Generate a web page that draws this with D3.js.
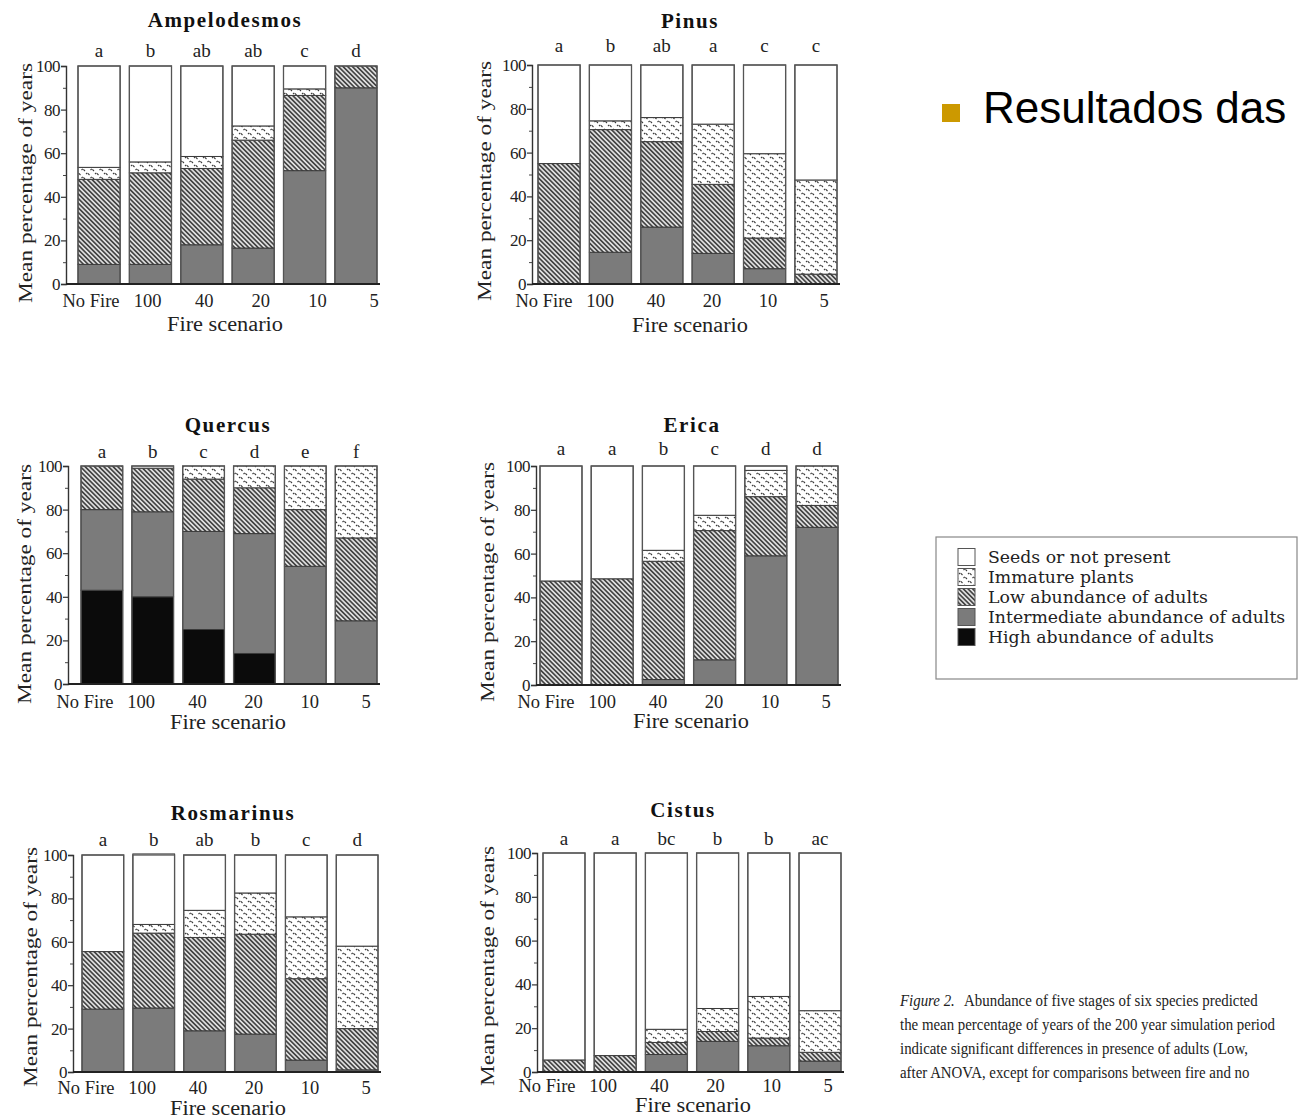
<!DOCTYPE html>
<html><head><meta charset="utf-8">
<script src="https://cdn.jsdelivr.net/npm/d3@7/dist/d3.min.js"></script>
<style>body{margin:0;background:#fff}svg{display:block}</style>
</head><body>
<script>
// ---------------- data ----------------
const categories = ["No Fire", "100", "40", "20", "10", "5"];
const stageKeys = ["high", "inter", "low", "immature", "seeds"];
const legendLabels = ["Seeds or not present", "Immature plants", "Low abundance of adults", "Intermediate abundance of adults", "High abundance of adults"];
const legendKeys = ["seeds", "immature", "low", "inter", "high"];
const yTicks = [0, 20, 40, 60, 80, 100];
const yMinorTicks = [10, 30, 50, 70, 90];

const ampelodesmosHigh = [0, 0, 0, 0, 0, 0];
const ampelodesmosInter = [9, 9, 18, 16.5, 52, 90];
const ampelodesmosLow = [39, 42, 35, 49.5, 34.5, 10];
const ampelodesmosImmature = [5.5, 5, 5.5, 6.5, 3, 0];
const ampelodesmosSeeds = [46.5, 44, 41.5, 27.5, 10.5, 0];
const ampelodesmosLetters = ["a", "b", "ab", "ab", "c", "d"];

const pinusHigh = [0, 0, 0, 0, 0, 0];
const pinusInter = [0, 14.5, 26, 14, 7, 0];
const pinusLow = [55, 56, 39, 31.5, 14, 4.5];
const pinusImmature = [0, 4, 11, 27.5, 38.5, 43];
const pinusSeeds = [45, 25.5, 24, 27, 40.5, 52.5];
const pinusLetters = ["a", "b", "ab", "a", "c", "c"];

const quercusHigh = [43, 40, 25, 14, 0, 0];
const quercusInter = [37, 39, 45, 55, 54, 29];
const quercusLow = [20, 20, 24, 21, 26, 38];
const quercusImmature = [0, 0, 6, 10, 20, 33];
const quercusSeeds = [0, 1, 0, 0, 0, 0];
const quercusLetters = ["a", "b", "c", "d", "e", "f"];

const ericaHigh = [0, 0, 0, 0, 0, 0];
const ericaInter = [0, 0, 2.5, 11.5, 59, 72];
const ericaLow = [47.5, 48.5, 54, 59, 27, 10];
const ericaImmature = [0, 0, 5, 7, 12, 18];
const ericaSeeds = [52.5, 51.5, 38.5, 22.5, 2, 0];
const ericaLetters = ["a", "a", "b", "c", "d", "d"];

const rosmarinusHigh = [0, 0, 0, 0, 0, 0];
const rosmarinusInter = [29, 29.5, 19, 17.5, 5.5, 1];
const rosmarinusLow = [26.5, 34.5, 43, 46, 37.5, 19];
const rosmarinusImmature = [0, 4, 12.5, 19, 28.5, 38];
const rosmarinusSeeds = [44.5, 32.5, 25.5, 17.5, 28.5, 42];
const rosmarinusLetters = ["a", "b", "ab", "b", "c", "d"];

const cistusHigh = [0, 0, 0, 0, 0, 0];
const cistusInter = [0, 0, 8, 14, 12, 5];
const cistusLow = [5.5, 7.5, 5.5, 4.5, 3.5, 4];
const cistusImmature = [0, 0, 6, 10.5, 19, 19];
const cistusSeeds = [94.5, 92.5, 80.5, 71, 65.5, 72];
const cistusLetters = ["a", "a", "bc", "b", "b", "ac"];

const captionLines = [
  "Abundance of five stages of six species predicted",
  "the mean percentage of years of the 200 year simulation period",
  "indicate significant differences in presence of adults (Low,",
  "after ANOVA, except for comparisons between fire and no"
];

function rows(h, i, l, im, s) {
  return categories.map((c, k) => ({cat: c, high: h[k], inter: i[k], low: l[k], immature: im[k], seeds: s[k]}));
}
const species = [
  {name: "Ampelodesmos", rows: rows(ampelodesmosHigh, ampelodesmosInter, ampelodesmosLow, ampelodesmosImmature, ampelodesmosSeeds), letters: ampelodesmosLetters},
  {name: "Pinus", rows: rows(pinusHigh, pinusInter, pinusLow, pinusImmature, pinusSeeds), letters: pinusLetters},
  {name: "Quercus", rows: rows(quercusHigh, quercusInter, quercusLow, quercusImmature, quercusSeeds), letters: quercusLetters},
  {name: "Erica", rows: rows(ericaHigh, ericaInter, ericaLow, ericaImmature, ericaSeeds), letters: ericaLetters},
  {name: "Rosmarinus", rows: rows(rosmarinusHigh, rosmarinusInter, rosmarinusLow, rosmarinusImmature, rosmarinusSeeds), letters: rosmarinusLetters},
  {name: "Cistus", rows: rows(cistusHigh, cistusInter, cistusLow, cistusImmature, cistusSeeds), letters: cistusLetters}
];

// ---------------- layout ----------------
const layout = [
  {ax: 66, y0: 284, y100: 66, bx: [78, 377], lx: [91, 374], tx: 225, ty: 27, letY: 57, labY: 307, xtx: 225, xty: 331, ytx: 32, yty: 183},
  {ax: 532, y0: 284, y100: 65, bx: [538, 837], lx: [544, 824], tx: 690, ty: 28, letY: 52, labY: 307, xtx: 690, xty: 332, ytx: 491, yty: 181},
  {ax: 68, y0: 684, y100: 466, bx: [81, 377], lx: [85, 366], tx: 228, ty: 432, letY: 458, labY: 708, xtx: 228, xty: 729, ytx: 31, yty: 584},
  {ax: 536, y0: 685, y100: 466, bx: [540, 838], lx: [546, 826], tx: 692, ty: 432, letY: 455, labY: 708, xtx: 691, xty: 728, ytx: 494, yty: 582},
  {ax: 73, y0: 1072, y100: 855, bx: [82, 378], lx: [86, 366], tx: 233, ty: 820, letY: 846, labY: 1094, xtx: 228, xty: 1115, ytx: 37, yty: 967},
  {ax: 537, y0: 1072, y100: 853, bx: [543, 841], lx: [547, 828], tx: 683, ty: 817, letY: 845, labY: 1092, xtx: 693, xty: 1112, ytx: 494, yty: 966}
];

const SERIF = "'Liberation Serif', 'Times New Roman', serif";
const W = 1299, H = 1120;
const svg = d3.select("body").append("svg").attr("width", W).attr("height", H)
  .style("font-family", SERIF);

// patterns
const defs = svg.append("defs");
const hatch = defs.append("pattern").attr("id", "hatch").attr("patternUnits", "userSpaceOnUse")
  .attr("width", 3.3).attr("height", 3.3).attr("patternTransform", "rotate(-45)");
hatch.append("rect").attr("width", 3.3).attr("height", 3.3).attr("fill", "#dedede");
hatch.append("line").attr("x1", 0.8).attr("y1", 0).attr("x2", 0.8).attr("y2", 3.3)
  .attr("stroke", "#2a2a2a").attr("stroke-width", 1.4);

const imm = defs.append("pattern").attr("id", "imm").attr("patternUnits", "userSpaceOnUse")
  .attr("width", 9).attr("height", 8);
imm.append("rect").attr("width", 9).attr("height", 8).attr("fill", "#fff");
[[0.5, 2], [5, 6]].forEach(([x, y]) => {
  imm.append("path").attr("d", `M${x},${y} l1.3,-1.2 M${x + 1.9},${y - 0.6} l1.6,1.6`)
    .attr("stroke", "#3a3a3a").attr("stroke-width", 1.1).attr("fill", "none");
});

const fills = {high: "#0b0b0b", inter: "#7b7b7b", low: "url(#hatch)", immature: "url(#imm)", seeds: "#ffffff"};

const stack = d3.stack().keys(stageKeys);

species.forEach((sp, i) => {
  const L = layout[i];
  const g = svg.append("g");
  const y = d3.scaleLinear().domain([0, 100]).range([L.y0, L.y100]);
  const x = d3.scaleBand().domain(categories).range(L.bx).paddingInner(0.18).paddingOuter(0);
  const xl = d3.scalePoint().domain(categories).range(L.lx);

  const series = stack(sp.rows);
  g.selectAll("g.s").data(series).join("g").attr("class", "s")
    .attr("fill", d => fills[d.key])
    .selectAll("rect").data(d => d.filter(p => p[1] - p[0] > 0)).join("rect")
    .attr("x", d => x(d.data.cat))
    .attr("width", x.bandwidth())
    .attr("y", d => y(d[1]))
    .attr("height", d => y(d[0]) - y(d[1]))
    .attr("stroke", "#3a3a3a").attr("stroke-width", 1);

  // bar outlines
  g.selectAll("rect.outline").data(sp.rows).join("rect").attr("class", "outline")
    .attr("x", d => x(d.cat)).attr("width", x.bandwidth())
    .attr("y", y(100)).attr("height", y(0) - y(100))
    .attr("fill", "none").attr("stroke", "#555").attr("stroke-width", 1.3);

  // y axis
  const yAxis = g.append("g").attr("transform", `translate(${L.ax},0)`)
    .call(d3.axisLeft(y).tickValues(yTicks).tickSize(5).tickPadding(1));
  yAxis.select(".domain").attr("stroke", "#333").attr("stroke-width", 1.4);
  yAxis.selectAll(".tick line").attr("stroke", "#333").attr("stroke-width", 1.2);
  yAxis.selectAll(".tick text").attr("font-family", SERIF).attr("font-size", 17).attr("fill", "#222")
    .attr("letter-spacing", -0.5);
  const yMinor = g.append("g").attr("transform", `translate(${L.ax},0)`)
    .call(d3.axisLeft(y).tickValues(yMinorTicks).tickSize(3).tickFormat(""));
  yMinor.select(".domain").remove();
  yMinor.selectAll(".tick line").attr("stroke", "#444");

  // baseline
  g.append("line").attr("x1", L.ax).attr("x2", L.bx[1] + 3).attr("y1", y(0)).attr("y2", y(0))
    .attr("stroke", "#222").attr("stroke-width", 2);

  // x labels
  g.selectAll("text.xl").data(categories).join("text").attr("class", "xl")
    .attr("x", d => xl(d)).attr("y", L.labY).attr("text-anchor", "middle")
    .attr("font-size", 18.5).attr("fill", "#222").text(d => d);

  // letters
  g.selectAll("text.let").data(sp.letters).join("text").attr("class", "let")
    .attr("x", (d, k) => x(categories[k]) + x.bandwidth() / 2).attr("y", L.letY)
    .attr("text-anchor", "middle").attr("font-size", 19).attr("fill", "#222").text(d => d);

  // title
  g.append("text").attr("x", L.tx).attr("y", L.ty).attr("text-anchor", "middle")
    .attr("font-size", 21).attr("font-weight", "bold").attr("letter-spacing", 1.6).attr("fill", "#111").text(sp.name);

  // axis titles
  g.append("text").attr("x", L.xtx).attr("y", L.xty).attr("text-anchor", "middle")
    .attr("font-size", 20).attr("fill", "#222")
    .attr("textLength", 116).attr("lengthAdjust", "spacingAndGlyphs").text("Fire scenario");
  g.append("text").attr("transform", `translate(${L.ytx},${L.yty}) rotate(-90)`)
    .attr("text-anchor", "middle").attr("font-size", 19).attr("fill", "#222")
    .attr("textLength", 240).attr("lengthAdjust", "spacingAndGlyphs")
    .text("Mean percentage of years");
});

// legend
const LEGFONT = "'DejaVu Serif', serif";
const lg = svg.append("g");
lg.append("rect").attr("x", 936).attr("y", 537).attr("width", 361).attr("height", 142)
  .attr("fill", "#fff").attr("stroke", "#888").attr("stroke-width", 1.2);
const ly = d3.scalePoint().domain(legendKeys).range([557, 637]);
lg.selectAll("rect.sw").data(legendKeys).join("rect").attr("class", "sw")
  .attr("x", 958).attr("y", d => ly(d) - 8.5).attr("width", 17).attr("height", 17)
  .attr("fill", d => fills[d]).attr("stroke", "#555").attr("stroke-width", 1);
lg.selectAll("text.lt").data(legendKeys).join("text").attr("class", "lt")
  .attr("x", 988).attr("y", d => ly(d) + 6).attr("font-family", LEGFONT).attr("font-size", 17.3)
  .attr("fill", "#222")
  .text((d, k) => legendLabels[k]);

// slide text
svg.append("rect").attr("x", 942).attr("y", 104).attr("width", 18).attr("height", 18).attr("fill", "#CC9900");
svg.append("text").attr("x", 983).attr("y", 123).attr("font-family", "'Liberation Sans', Arial, sans-serif")
  .attr("font-size", 44).attr("fill", "#000").text("Resultados das");

// caption
const cap = svg.append("g").attr("transform", "translate(900,0) scale(0.93,1)").attr("fill", "#222");
const t1 = cap.append("text").attr("x", 0).attr("y", 1006).attr("font-size", 16);
t1.append("tspan").attr("font-style", "italic").text("Figure 2.");
t1.append("tspan").attr("dx", 10).text(captionLines[0]);
captionLines.slice(1).forEach((s, k) => {
  cap.append("text").attr("x", 0).attr("y", 1030 + k * 24).attr("font-size", 16).text(s);
});
</script>
</body></html>
